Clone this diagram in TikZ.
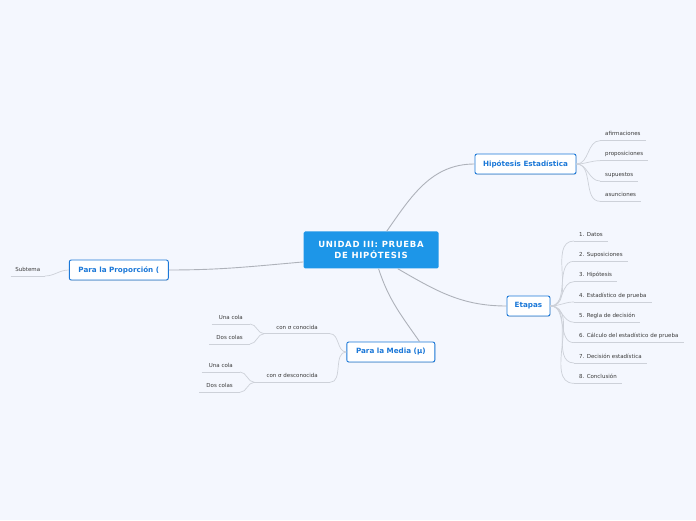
\documentclass[tikz,border=0pt]{standalone}
\usepackage{fontspec}
\setmainfont{DejaVu Sans}
\usetikzlibrary{positioning,shadows}
\definecolor{bgcol}{HTML}{F4F7FE}
\definecolor{topblue}{HTML}{1D96E8}
\definecolor{subblue}{HTML}{1B78D8}
\definecolor{linegrey}{HTML}{AEB2BA}
\definecolor{twiggrey}{HTML}{CDD1D9}
\definecolor{leaftext}{HTML}{3A3A3A}
\newcommand{\LeafFont}{\fontsize{5.5}{6.5}\selectfont}
\tikzset{topic/.style={fill=topblue,rounded corners=1.5pt,text=white,align=center,font=\fontsize{8.5}{10.5}\selectfont\bfseries\addfontfeature{LetterSpace=8},minimum width=135pt,minimum height=37pt}}
\tikzset{mainbox/.style={draw=subblue,line width=0.9pt,fill=white,rounded corners=2pt,text=subblue,font=\fontsize{7.2}{8.5}\selectfont\bfseries,minimum height=20pt,drop shadow={shadow xshift=0.5pt,shadow yshift=-0.8pt,opacity=0.2}}}
\tikzset{leaf/.style={font=\LeafFont,text=leaftext,inner xsep=5pt,inner ysep=4.5pt,text height=4pt,text depth=0pt}}
\tikzset{branch/.style={draw=linegrey,line width=0.9pt},twig/.style={draw=twiggrey,line width=0.7pt}}

\begin{document}
\begin{tikzpicture}[x=1pt,y=1pt]
\fill[bgcol](0,0)rectangle(696,520);\useasboundingbox(0,0)rectangle(696,520);
% central topic and main topics
\node[topic](cen)at(371,270){UNIDAD III: PRUEBA\\DE HIPÓTESIS};
\node[mainbox,minimum width=101pt](hip)at(525.5,356){Hipótesis Estadística};
\node[mainbox,minimum width=43pt](eta)at(528.5,214){Etapas};
\node[mainbox,minimum width=99pt](pro)at(118.8,250){Para la Proporción (};
\node[mainbox,minimum width=88pt](med)at(390.8,168){Para la Media (μ)};
\draw[branch](cen.50)to[out=55,in=180](hip.west);\draw[branch](cen.-35)to[out=-30,in=180](eta.west);
\draw[branch](cen.-68)to[out=-72,in=125](med.20);\draw[branch](cen.190)to[out=185,in=0](pro.east);
% Hipotesis Estadistica
\foreach \txt/\yy [count=\i] in {afirmaciones/379.3,proposiciones/359.3,supuestos/339,asunciones/318.7}{
\node[leaf,anchor=south west](h\i)at(600,\yy){\txt};
\draw[twig](h\i.south west)--(h\i.south east);\draw[twig](hip.east)to[out=0,in=180](h\i.south west);}
% Etapas
\foreach \txt [count=\i] in {1. Datos,2. Suposiciones,3. Hipótesis,4. Estadístico de prueba,5. Regla de decisión,6. Cálculo del estadístico de prueba,7. Decisión estadística,8. Conclusión}{
\node[leaf,anchor=south west](e\i)at(574,{279-20.33*(\i-1)}){\txt};
\draw[twig](e\i.south west)--(e\i.south east);\draw[twig](eta.east)to[out=0,in=180](e\i.south west);}
% Para la Proporcion
\node[leaf,anchor=south west,inner xsep=4.5pt](sub)at(10.7,244){Subtema};
\draw[twig](sub.south west)--(sub.south east);\draw[twig](pro.west)to[out=180,in=0](sub.south east);
% Para la Media
\node[leaf,anchor=south east,inner xsep=12pt](sc)at(330,186.3){con σ conocida};
\node[leaf,anchor=south east,inner xsep=12pt](sd)at(330,137.7){con σ desconocida};
\node[leaf,anchor=south east,inner xsep=7pt](c1)at(250,196){Una cola};\node[leaf,anchor=south east,inner xsep=7pt](c2)at(250,176){Dos colas};
\node[leaf,anchor=south east,inner xsep=7pt](d1)at(240,148){Una cola};\node[leaf,anchor=south east,inner xsep=7pt](d2)at(240,127.7){Dos colas};
\foreach \n in {sc,sd}{\draw[twig](\n.south west)--(\n.south east);\draw[twig](med.west)to[out=180,in=0](\n.south east);}
\foreach \n in {c1,c2}{\draw[twig](\n.south west)--(\n.south east);\draw[twig](sc.south west)to[out=180,in=0](\n.south east);}
\foreach \n in {d1,d2}{\draw[twig](\n.south west)--(\n.south east);\draw[twig](sd.south west)to[out=180,in=0](\n.south east);}
\end{tikzpicture}
\end{document}
